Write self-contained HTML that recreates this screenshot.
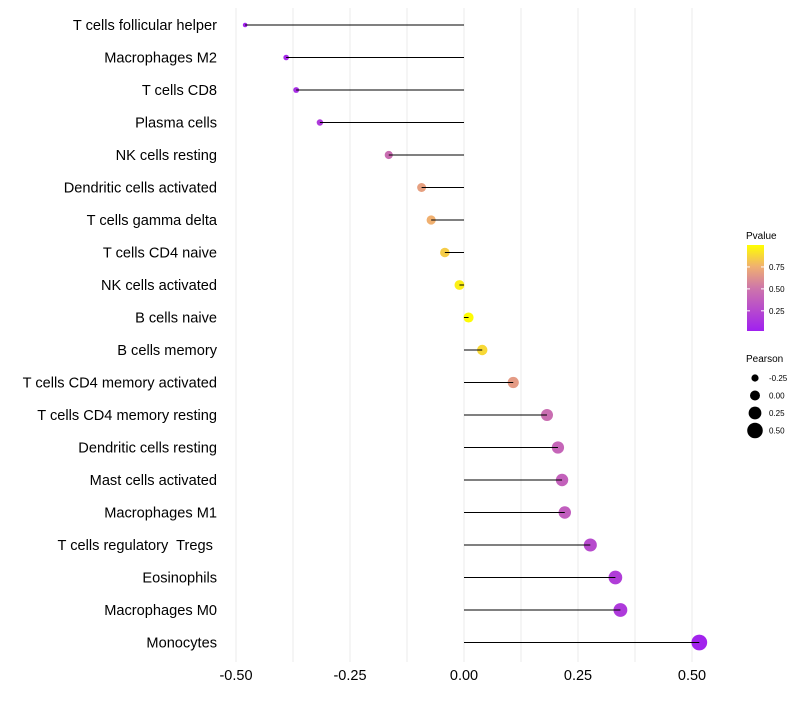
<!DOCTYPE html>
<html><head><meta charset="utf-8"><style>
body{margin:0;background:#fff;font-family:"Liberation Sans",sans-serif;}
svg text{font-family:"Liberation Sans",sans-serif;white-space:pre;}
</style></head><body>
<svg id="c" width="800" height="700"></svg>
<script>
const categories=["T cells follicular helper","Macrophages M2","T cells CD8","Plasma cells","NK cells resting","Dendritic cells activated","T cells gamma delta","T cells CD4 naive","NK cells activated","B cells naive","B cells memory","T cells CD4 memory activated","T cells CD4 memory resting","Dendritic cells resting","Mast cells activated","Macrophages M1","T cells regulatory  Tregs ","Eosinophils","Macrophages M0","Monocytes"];
const pearson=[-0.48,-0.39,-0.368,-0.316,-0.165,-0.093,-0.072,-0.042,-0.01,0.01,0.04,0.108,0.182,0.206,0.215,0.221,0.277,0.332,0.343,0.516];
const pvalue=[0.02,0.05,0.08,0.15,0.45,0.68,0.75,0.84,0.95,0.99,0.88,0.66,0.45,0.40,0.38,0.36,0.25,0.17,0.15,0.02];
const xTicks=[-0.5,-0.25,0,0.25,0.5];
const xTickLabels=["-0.50","-0.25","0.00","0.25","0.50"];
const sizeLegend=[-0.25,0,0.25,0.5];
const sizeLegendLabels=["-0.25","0.00","0.25","0.50"];
const ns="http://www.w3.org/2000/svg";
const svg=document.getElementById('c');
function X(v){return 464+v*456;}
function Y(i){return 25+i*32.5;}
function R(v){return 2.3+(v+0.48)*5.6;}
const stops=[[0,[160,32,240]],[0.5,[206,118,170]],[0.75,[240,176,112]],[1,[255,255,0]]];
function col(p){for(let i=1;i<stops.length;i++){if(p<=stops[i][0]){const a=stops[i-1],b=stops[i],t=(p-a[0])/(b[0]-a[0]);return 'rgb('+a[1].map((c,k)=>Math.round(c+(b[1][k]-c)*t)).join(',')+')';}}return 'rgb(255,255,0)';}
function el(t,a){const e=document.createElementNS(ns,t);for(const k in a)e.setAttribute(k,a[k]);svg.appendChild(e);return e;}
for(let g=-0.5;g<=0.5001;g+=0.125){const l=el('line',{x1:X(g),x2:X(g),y1:8,y2:662,stroke:'#ebebeb','stroke-width':1});

}
xTicks.forEach((v,i)=>{const t=el('text',{x:X(v),y:680,'text-anchor':'middle','font-size':14.5,fill:'#000'});t.textContent=xTickLabels[i];

});
categories.forEach((c,i)=>{
const t=el('text',{x:217,y:Y(i)+5,'text-anchor':'end','font-size':14.6,fill:'#000'});t.textContent=c;


const p=el('circle',{cx:X(pearson[i]),cy:Y(i),r:R(pearson[i]),fill:col(pvalue[i])});


const s=el('line',{x1:X(0),x2:X(pearson[i]),y1:Y(i),y2:Y(i),stroke:'#000','stroke-width':1});


});
const defs=el('defs',{});
const lg=document.createElementNS(ns,'linearGradient');lg.setAttribute('id','g');lg.setAttribute('x1','0');lg.setAttribute('y1','1');lg.setAttribute('x2','0');lg.setAttribute('y2','0');
stops.forEach(s=>{const st=document.createElementNS(ns,'stop');st.setAttribute('offset',s[0]);st.setAttribute('stop-color','rgb('+s[1].join(',')+')');lg.appendChild(st);});
defs.appendChild(lg);
const lt=el('text',{x:746,y:239,'font-size':10});lt.textContent='Pvalue';


const bar=el('rect',{x:747,y:245,width:17,height:86,fill:'url(#g)'});


[[0.75,'0.75'],[0.5,'0.50'],[0.25,'0.25']].forEach(([v,s])=>{const y=331-(v-0.02)/0.98*86;
el('line',{x1:747,x2:750,y1:y,y2:y,stroke:'#fff'});el('line',{x1:761,x2:764,y1:y,y2:y,stroke:'#fff'});
const t=el('text',{x:769,y:y+3,'font-size':8});t.textContent=s;

});
const st=el('text',{x:746,y:362,'font-size':10});st.textContent='Pearson';


sizeLegend.forEach((v,i)=>{const y=378+i*17.5;
const c=el('circle',{cx:755,cy:y,r:R(v),fill:'#000'});


const t=el('text',{x:769,y:y+3,'font-size':8});t.textContent=sizeLegendLabels[i];

});
</script>
</body></html>
